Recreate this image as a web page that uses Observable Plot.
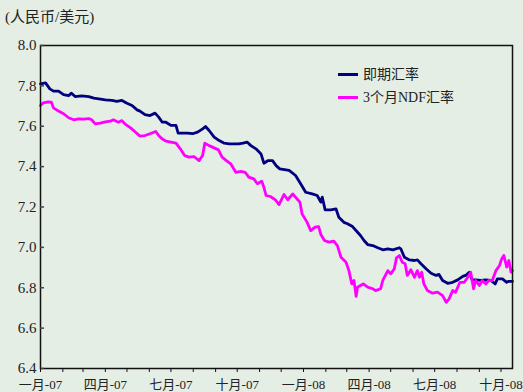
<!DOCTYPE html>
<html>
<head>
<meta charset="utf-8">
<script src="https://cdn.jsdelivr.net/npm/d3@7"></script>
<script src="https://cdn.jsdelivr.net/npm/@observablehq/plot@0.6"></script>
<style>
  html, body { margin: 0; padding: 0; background: #e4eee5; }
  #wrap { position: relative; width: 523px; height: 392px; background: #e4eee5; overflow: hidden;
          font-family: "Liberation Serif", "Noto Sans CJK SC", serif; color: #222; }
  #title { position: absolute; left: 5px; top: 6px; font-size: 15px; line-height: 22px; }
  .leg { position: absolute; left: 338px; font-size: 14px; line-height: 18px; white-space: nowrap; }
  .sw { display: inline-block; width: 20px; height: 3px; vertical-align: middle; margin-right: 5px; position: relative; top: -1px; }
  svg { position: absolute; left: 0; top: 0; }
</style>
</head>
<body>
<div id="wrap">
  <div id="title">(人民币/美元)</div>
</div>
<script>
// ---- data ----
const startDate = "2007-01-01";           // day 0
const endDate = "2008-10-17";
const seriesNames = ["即期汇率", "3个月NDF汇率"];
const seriesColors = ["#000080", "#ff00ff"];
const monthNames = ["一月","二月","三月","四月","五月","六月","七月","八月","九月","十月","十一月","十二月"];
const yTicks = [6.4, 6.6, 6.8, 7.0, 7.2, 7.4, 7.6, 7.8, 8.0];

// spot rate: days since 2007-01-01, value
const spotDays = [0,7,13,18,25,32,39,43,48,57,67,74,81,90,99,106,113,120,127,134,138,145,152,159,164,169,174,181,188,191,197,204,211,218,225,229,234,241,248,255,262,268,275,281,287,292,299,306,310,316,322,327,332,345,354,361,368,377,384,389,391,395,403,410,414,421,426,433,440,444,449,454,461,468,475,482,489,498,500,505,512,519,523,528,535,542,549,553,558,565,572,579,586,590,595,599,604,611,618,625,631,634,641,647,650,655];
const spotRate = [7.81,7.815,7.785,7.774,7.774,7.757,7.752,7.764,7.747,7.75,7.747,7.739,7.736,7.731,7.728,7.723,7.728,7.714,7.703,7.681,7.675,7.658,7.653,7.665,7.645,7.62,7.62,7.604,7.604,7.566,7.566,7.566,7.563,7.571,7.587,7.599,7.579,7.546,7.529,7.516,7.513,7.513,7.513,7.516,7.521,7.504,7.488,7.463,7.417,7.43,7.43,7.405,7.389,7.381,7.356,7.315,7.273,7.265,7.257,7.224,7.249,7.186,7.186,7.191,7.149,7.124,7.117,7.103,7.075,7.059,7.034,7.014,7.009,6.998,6.988,6.993,6.988,6.998,6.993,6.951,6.938,6.935,6.938,6.919,6.894,6.872,6.861,6.866,6.836,6.822,6.827,6.839,6.856,6.861,6.877,6.839,6.839,6.836,6.839,6.836,6.819,6.844,6.844,6.827,6.832,6.832];

// 3-month NDF rate
const ndfDays = [0,4,11,15,18,25,32,39,46,53,60,67,71,76,83,90,97,101,108,113,118,125,132,138,145,152,160,164,167,171,174,181,188,194,200,206,213,220,225,228,234,241,247,252,258,264,271,278,284,289,296,301,307,310,313,319,326,331,338,343,350,357,360,363,370,375,381,386,389,394,400,407,412,417,424,428,432,435,438,440,444,448,454,461,465,472,475,482,486,491,494,498,502,506,509,514,519,523,526,529,532,537,544,551,558,563,567,572,576,582,588,593,597,601,604,609,613,618,622,627,632,637,640,643,647,650,653,655];
const ndfRate = [7.703,7.716,7.721,7.72,7.691,7.675,7.662,7.642,7.632,7.637,7.635,7.638,7.632,7.612,7.615,7.622,7.625,7.632,7.62,7.628,7.609,7.592,7.57,7.551,7.554,7.563,7.574,7.554,7.543,7.533,7.526,7.521,7.516,7.488,7.455,7.447,7.45,7.43,7.455,7.516,7.504,7.493,7.483,7.447,7.43,7.414,7.372,7.376,7.372,7.348,7.339,7.315,7.328,7.298,7.257,7.252,7.235,7.212,7.262,7.236,7.265,7.236,7.224,7.166,7.124,7.083,7.1,7.103,7.064,7.034,7.026,7.031,7.009,6.951,6.926,6.885,6.819,6.836,6.757,6.803,6.811,6.819,6.803,6.795,6.786,6.795,6.836,6.885,6.869,6.894,6.948,6.96,6.926,6.919,6.861,6.889,6.852,6.885,6.852,6.877,6.819,6.786,6.773,6.778,6.761,6.728,6.745,6.786,6.778,6.827,6.827,6.852,6.877,6.795,6.836,6.811,6.836,6.819,6.836,6.836,6.885,6.91,6.943,6.96,6.902,6.935,6.877,6.885];

// ---- build table ----
const t0 = new Date(startDate + "T00:00:00Z");
const rows = [];
spotDays.forEach((d, i) => rows.push({date: d3.utcDay.offset(t0, d), value: spotRate[i], series: seriesNames[0]}));
ndfDays.forEach((d, i) => rows.push({date: d3.utcDay.offset(t0, d), value: ndfRate[i], series: seriesNames[1]}));

const xDomain = [t0, new Date(endDate + "T00:00:00Z")];
const monthTicks = d3.utcMonth.range(t0, d3.utcDay.offset(xDomain[1], 1));
const fmt = d => d.getUTCMonth() % 3 === 0
  ? monthNames[d.getUTCMonth()] + "-" + String(d.getUTCFullYear() % 100).padStart(2, "0")
  : "";

const chart = Plot.plot({
  width: 523,
  height: 392,
  marginTop: 45,
  marginBottom: 24,
  marginLeft: 40,
  marginRight: 11,
  style: {background: "transparent", fontFamily: '"Liberation Serif", "Noto Sans CJK SC", serif', color: "#222"},
  x: {type: "utc", domain: xDomain, label: null},
  y: {domain: [6.4, 8.0], label: null},
  color: {domain: seriesNames, range: seriesColors},
  marks: [
    Plot.line(rows, {x: "date", y: "value", z: "series", stroke: "series", strokeWidth: 2.8, curve: "linear"}),
    Plot.frame({stroke: "#111", strokeWidth: 1.5}),
    Plot.axisY({ticks: yTicks, tickSize: -4, tickPadding: 8, tickFormat: d3.format(".1f"), fontSize: 15, stroke: "#444", strokeWidth: 1.5, label: null}),
    Plot.axisX({ticks: monthTicks, tickSize: 4, tickPadding: 7, tickFormat: fmt, fontSize: 13, stroke: "#111", label: null})
  ]
});
document.getElementById("wrap").appendChild(chart);

// legend (HTML overlay)
const wrap = document.getElementById("wrap");
seriesNames.forEach((name, i) => {
  const el = document.createElement("div");
  el.className = "leg";
  el.style.top = (66 + i * 23) + "px";
  el.innerHTML = `<span class="sw" style="background:${seriesColors[i]}"></span>${name}`;
  wrap.appendChild(el);
});
</script>
</body>
</html>
